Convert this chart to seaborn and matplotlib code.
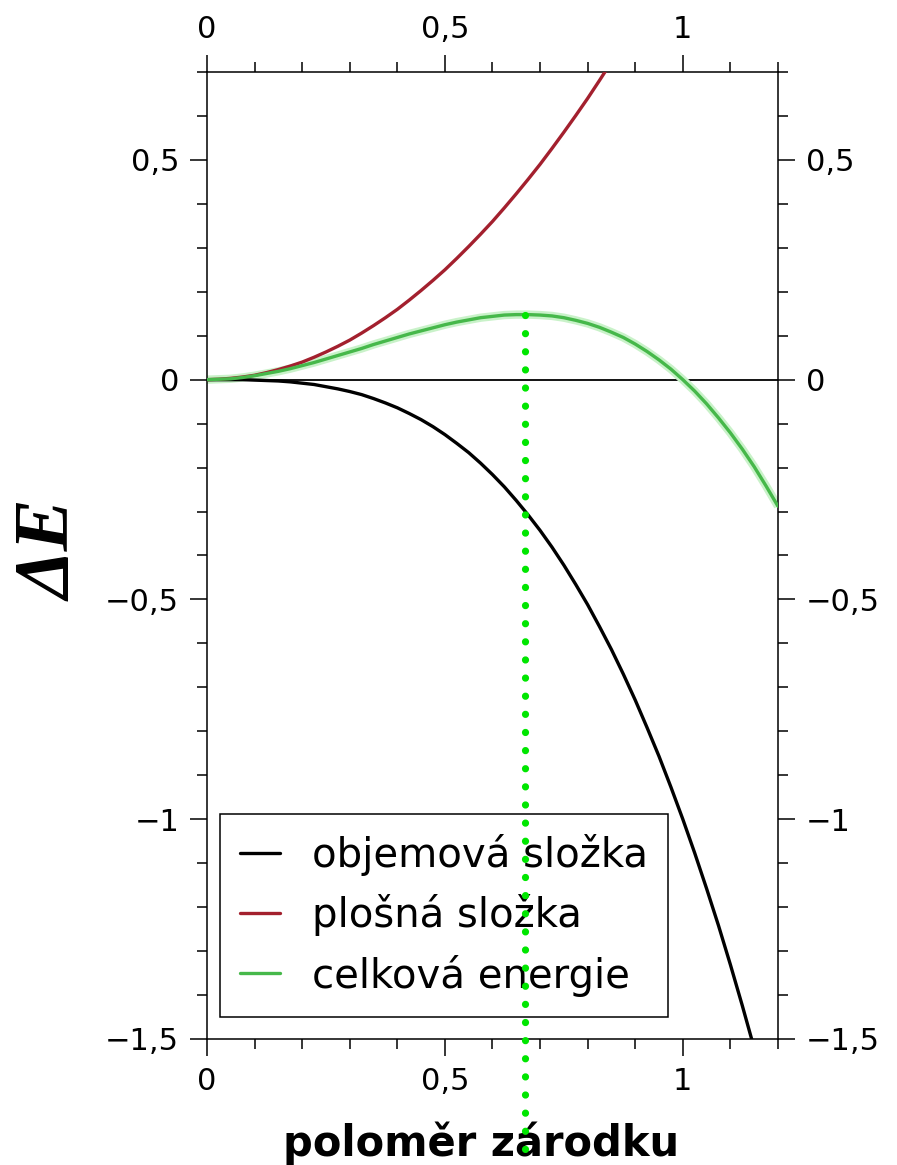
import numpy as np
import pandas as pd
import matplotlib
matplotlib.use("Agg")
import matplotlib.pyplot as plt
import seaborn as sns
from matplotlib.ticker import MultipleLocator, FuncFormatter

# ==========================================
# DATA
# ==========================================
r = [0.000, 0.025, 0.050, 0.075, 0.100, 0.125, 0.150, 0.175, 0.200, 0.225,
     0.250, 0.275, 0.300, 0.325, 0.350, 0.375, 0.400, 0.425, 0.450, 0.475,
     0.500, 0.525, 0.550, 0.575, 0.600, 0.625, 0.650, 0.675, 0.700, 0.725,
     0.750, 0.775, 0.800, 0.825, 0.850, 0.875, 0.900, 0.925, 0.950, 0.975,
     1.000, 1.025, 1.050, 1.075, 1.100, 1.125, 1.150, 1.175, 1.200]

# objemová složka (black)
objem = [0.000, 0.000, 0.000, -0.000, -0.001, -0.002, -0.003, -0.005, -0.008, -0.011,
         -0.016, -0.021, -0.027, -0.034, -0.043, -0.053, -0.064, -0.077, -0.091, -0.107,
         -0.125, -0.145, -0.166, -0.190, -0.216, -0.244, -0.275, -0.308, -0.343, -0.381,
         -0.422, -0.466, -0.512, -0.562, -0.614, -0.670, -0.729, -0.792, -0.857, -0.927,
         -1.000, -1.077, -1.158, -1.242, -1.331, -1.424, -1.521, -1.622, -1.728]

# plošná složka (red)
plocha = [0.000, 0.001, 0.003, 0.006, 0.010, 0.016, 0.023, 0.031, 0.040, 0.051,
          0.063, 0.076, 0.090, 0.106, 0.123, 0.141, 0.160, 0.181, 0.203, 0.226,
          0.250, 0.276, 0.303, 0.331, 0.360, 0.391, 0.423, 0.456, 0.490, 0.526,
          0.563, 0.601, 0.640, 0.681, 0.723, 0.766, 0.810, 0.856, 0.903, 0.951,
          1.000, 1.051, 1.103, 1.156, 1.210, 1.266, 1.323, 1.381, 1.440]

# celková energie (green)
celkem = [0.000, 0.001, 0.002, 0.005, 0.009, 0.014, 0.019, 0.025, 0.032, 0.039,
          0.047, 0.055, 0.063, 0.071, 0.080, 0.088, 0.096, 0.104, 0.111, 0.118,
          0.125, 0.131, 0.136, 0.141, 0.144, 0.147, 0.148, 0.148, 0.147, 0.145,
          0.141, 0.135, 0.128, 0.119, 0.108, 0.096, 0.081, 0.064, 0.045, 0.024,
          0.000, -0.026, -0.055, -0.087, -0.121, -0.158, -0.198, -0.242, -0.288]

labels = ["objemová složka", "plošná složka", "celková energie"]
colors = ["#000000", "#a3202e", "#46b84a"]

PEAK_R = 0.668      # kritický poloměr
PEAK_E = 0.148
DOT_BOTTOM = -1.80  # tečkovaná čára jde až pod osu

df = pd.DataFrame({"r": r * 3,
                   "E": objem + plocha + celkem,
                   "slozka": sum([[l] * len(r) for l in labels], [])})

# ==========================================
# PLOT
# ==========================================
sns.set_style("ticks")
plt.rcParams["font.family"] = ["DejaVu Sans"]
plt.rcParams["text.color"] = "black"
plt.rcParams["xtick.color"] = "black"
plt.rcParams["ytick.color"] = "black"
plt.rcParams["axes.labelcolor"] = "black"

fig = plt.figure(figsize=(8.97, 11.65), dpi=100)
ax = fig.add_axes([0.2308, 0.1082, 0.6365, 0.8300])

ax.axhline(0, color="black", lw=1.3, zorder=1)

# light halo under the green curve
ax.plot(r, celkem, color="#c9f2c9", lw=6, zorder=2, solid_capstyle="butt")
sns.lineplot(data=df, x="r", y="E", hue="slozka", palette=dict(zip(labels, colors)),
             hue_order=labels, lw=2.4, ax=ax, zorder=3, legend=False)

# critical radius marker
ax.plot([PEAK_R, PEAK_R], [PEAK_E, DOT_BOTTOM], color="#00e600", lw=5.2,
        linestyle=(0, (0.01, 2.5)), dash_capstyle="round", clip_on=False, zorder=20)

ax.set_xlim(0, 1.2)
ax.set_ylim(-1.5, 0.7)

fmt = FuncFormatter(lambda v, p: f"{v:g}".replace(".", ",").replace("-", "\u2212"))
ax.xaxis.set_major_locator(MultipleLocator(0.5))
ax.xaxis.set_minor_locator(MultipleLocator(0.1))
ax.yaxis.set_major_locator(MultipleLocator(0.5))
ax.yaxis.set_minor_locator(MultipleLocator(0.1))
ax.xaxis.set_major_formatter(fmt)
ax.yaxis.set_major_formatter(fmt)

ax.tick_params(which="both", direction="out", top=True, right=True,
               labeltop=True, labelright=True, width=1.1, color="black")
ax.tick_params(which="major", length=12, labelsize=22, pad=8)
ax.tick_params(which="minor", length=7)
for s in ax.spines.values():
    s.set_linewidth(1.1)
    s.set_color("black")

ax.set_xlabel("poloměr zárodku", fontsize=30, fontweight="bold")
ax.xaxis.set_label_coords(0.48, -0.085)
ax.set_ylabel("")
fig.text(0.058, 0.527, "ΔE", rotation=90, ha="center", va="center",
         fontsize=56, fontweight="bold", fontstyle="italic",
         family=["Liberation Serif", "DejaVu Serif"])

handles = [plt.Line2D([], [], color=c, lw=2.4) for c in colors]
leg = ax.legend(handles, labels, loc="lower left", bbox_to_anchor=(0.022, 0.023),
                fontsize=29, frameon=True, fancybox=False, handlelength=1.0,
                handletextpad=0.8, borderpad=0.5, labelspacing=0.45,
                borderaxespad=0)
leg.get_frame().set_edgecolor("black")
leg.get_frame().set_linewidth(1.1)
leg.get_frame().set_alpha(1)
leg.set_zorder(10)

fig.savefig("out.png", dpi=100)
